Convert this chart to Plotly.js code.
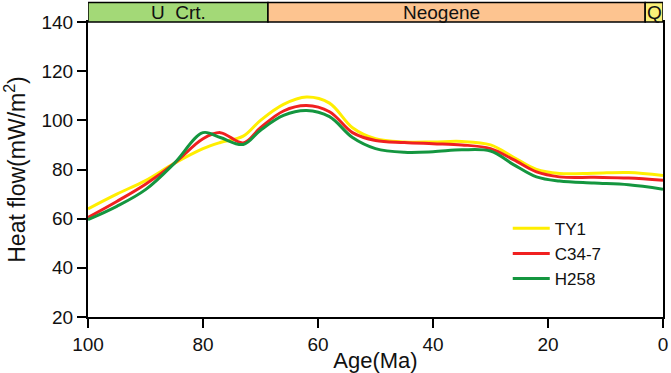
<!DOCTYPE html>
<html>
<head>
<meta charset="utf-8">
<script src="https://cdn.plot.ly/plotly-3.0.1.min.js"></script>
<style>
  body { margin: 0; background: #fff; }
  #chart { width: 671px; height: 373px; }
</style>
</head>
<body>
<div id="chart"></div>
<script>
// ages in Ma (shared by the three wells)
var ages = [100, 95, 90, 85, 80, 77, 73, 70, 66, 62, 58, 54, 50, 45, 40, 35, 30, 26, 22, 18, 12, 6, 0];

// heat flow, mW/m2
var ty1  = [64, 70, 75.5, 82.5, 88.5, 91, 93.6, 100, 106.5, 109.5, 107, 97, 92.5, 91.2, 91.2, 91.4, 90, 85, 80, 78.4, 78.5, 78.8, 77.6];
var c347 = [60.5, 67, 74, 82.5, 92.5, 95, 90.8, 97, 103.8, 106, 103.5, 95, 91.8, 91, 90.5, 90, 88.5, 84, 79, 77, 76.8, 76.5, 75.6];
var h258 = [59.6, 65, 71.8, 82.5, 95, 93, 90.2, 96, 102, 104, 101.5, 93, 88.5, 87, 87.2, 88, 87.5, 82, 77, 75.3, 74.5, 73.8, 72];

var seriesNames = ["TY1", "C34-7", "H258"];
var seriesColors = ["#ffee00", "#f02020", "#14963f"];

// geologic periods across the top
var periodNames = ["U  Crt.", "Neogene", "Q"];
var periodStart = [100, 68.7, 3.1];
var periodEnd = [68.7, 3.1, 0];
var periodLabelAt = [84.3, 38.6, 1.5];
var periodColors = ["#a3d977", "#fdc490", "#faf078"];

var traces = [ty1, c347, h258].map(function (ys, i) {
  return {
    x: ages,
    y: ys,
    name: seriesNames[i],
    type: "scatter",
    mode: "lines",
    line: {color: seriesColors[i], width: 3, shape: "spline", smoothing: 1}
  };
});

var shapes = [];
var annotations = [];
for (var i = 0; i < periodNames.length; i++) {
  shapes.push({
    type: "rect", xref: "x", yref: "paper",
    x0: periodStart[i], x1: periodEnd[i], y0: 1, y1: 1.066,
    fillcolor: periodColors[i],
    line: {color: "#000", width: 1.5}
  });
  annotations.push({
    x: periodLabelAt[i], xref: "x", y: 1.033, yref: "paper",
    xanchor: "center", yanchor: "middle",
    text: periodNames[i], showarrow: false,
    font: {size: 19, color: "#111"}
  });
}

var layout = {
  width: 671,
  height: 373,
  margin: {l: 88, r: 8, t: 22, b: 56},
  paper_bgcolor: "#fff",
  plot_bgcolor: "#fff",
  font: {family: "Liberation Sans, Arial, sans-serif", color: "#111", size: 19},
  showlegend: true,
  legend: {
    x: 0.73, y: 0.36, xanchor: "left", yanchor: "top",
    bgcolor: "rgba(0,0,0,0)", font: {size: 17},
    itemwidth: 37, tracegroupgap: 0
  },
  xaxis: {
    range: [100, 0],
    tickvals: [100, 80, 60, 40, 20, 0],
    ticks: "outside", ticklen: 9, tickwidth: 2, tickcolor: "#000",
    showline: true, linecolor: "#000", linewidth: 2, mirror: true,
    showgrid: false, zeroline: false,
    tickfont: {size: 19},
    title: {text: "Age(Ma)", font: {size: 22}, standoff: 0}
  },
  yaxis: {
    range: [20, 140],
    tickvals: [20, 40, 60, 80, 100, 120, 140],
    ticks: "outside", ticklen: 9, tickwidth: 2, tickcolor: "#000",
    showline: true, linecolor: "#000", linewidth: 2, mirror: true,
    showgrid: false, zeroline: false,
    tickfont: {size: 19},
    title: {text: "Heat flow(mW/m<sup>2</sup>)", font: {size: 23}, standoff: 11}
  },
  shapes: shapes,
  annotations: annotations
};

Plotly.newPlot("chart", traces, layout, {displayModeBar: false, staticPlot: true});
</script>
</body>
</html>
